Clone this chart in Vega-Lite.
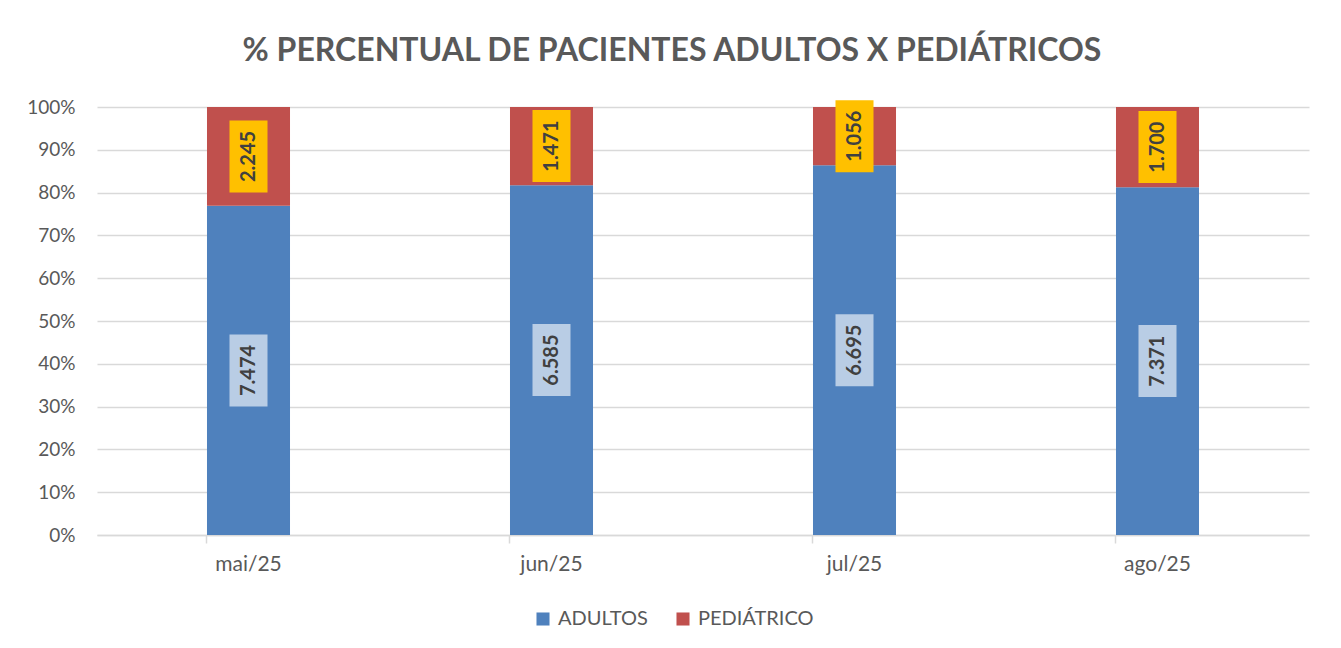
{
  "$schema": "https://vega.github.io/schema/vega-lite/v6.json",
  "width": 1212,
  "height": 428,
  "autosize": {"type": "none"},
  "padding": {"left": 97, "top": 107, "right": 32, "bottom": 113},
  "background": "white",
  "config": {
    "view": {"stroke": null},
    "font": "Lato",
    "locale": {"number": {"decimal": ",", "thousands": ".", "grouping": [3], "currency": ["R$", ""]}},
    "axisY": {
      "title": null,
      "format": ".0%",
      "labelFontSize": 19,
      "labelColor": "#595959",
      "labelPadding": 22,
      "domain": false,
      "ticks": false,
      "gridColor": "#d9d9d9",
      "gridWidth": 1.5,
      "labelOverlap": false
    }
  },
  "title": {
    "text": "% PERCENTUAL DE PACIENTES ADULTOS X PEDIÁTRICOS",
    "fontSize": 32,
    "fontWeight": "bold",
    "color": "#595959",
    "dx": -31,
    "offset": 30
  },
  "data": {
    "values": [
      {"mes": "mai/25", "grupo": "ADULTOS", "valor": 7474},
      {"mes": "mai/25", "grupo": "PEDIÁTRICO", "valor": 2245},
      {"mes": "jun/25", "grupo": "ADULTOS", "valor": 6585},
      {"mes": "jun/25", "grupo": "PEDIÁTRICO", "valor": 1471},
      {"mes": "jul/25", "grupo": "ADULTOS", "valor": 6695},
      {"mes": "jul/25", "grupo": "PEDIÁTRICO", "valor": 1056},
      {"mes": "ago/25", "grupo": "ADULTOS", "valor": 7371},
      {"mes": "ago/25", "grupo": "PEDIÁTRICO", "valor": 1700}
    ]
  },
  "transform": [
    {"stack": "valor", "groupby": ["mes"], "sort": [{"field": "grupo", "order": "ascending"}], "as": ["v0", "v1"], "offset": "normalize"},
    {"calculate": "(datum.v0 + datum.v1) / 2", "as": "meio"}
  ],
  "encoding": {
    "x": {
      "field": "mes",
      "type": "nominal",
      "sort": ["mai/25", "jun/25", "jul/25", "ago/25"],
      "scale": {"paddingInner": 0.726, "paddingOuter": 0.363},
      "axis": {
        "title": null,
        "labelAngle": 0,
        "labelFontSize": 21,
        "labelColor": "#595959",
        "labelPadding": 10,
        "domainColor": "#d9d9d9",
        "domainWidth": 1.5,
        "tickColor": "#d9d9d9",
        "tickSize": 8,
        "tickWidth": 1.5,
        "bandPosition": 0,
        "grid": false
      }
    }
  },
  "layer": [
    {
      "mark": {"type": "bar"},
      "encoding": {
        "y": {
          "field": "v0",
          "type": "quantitative",
          "scale": {"domain": [0, 1]},
          "axis": {"values": [0, 0.1, 0.2, 0.3, 0.4, 0.5, 0.6, 0.7, 0.8, 0.9, 1]}
        },
        "y2": {"field": "v1"},
        "color": {
          "field": "grupo",
          "type": "nominal",
          "scale": {"domain": ["ADULTOS", "PEDIÁTRICO"], "range": ["#4F81BD", "#C0504D"]},
          "legend": {
            "title": null,
            "orient": "none",
            "direction": "horizontal",
            "legendX": 436,
            "legendY": 502,
            "symbolType": "square",
            "symbolSize": 170,
            "symbolStrokeWidth": 0,
            "labelFontSize": 20,
            "labelColor": "#595959",
            "columnPadding": 25,
            "labelOffset": 5
          }
        }
      }
    },
    {
      "mark": {"type": "point", "filled": true, "opacity": 1, "shape": "M-0.528,-1H0.528V1H-0.528Z", "size": 5184},
      "encoding": {
        "y": {"field": "meio", "type": "quantitative", "axis": {"values": [0, 0.1, 0.2, 0.3, 0.4, 0.5, 0.6, 0.7, 0.8, 0.9, 1]}},
        "fill": {
          "condition": {"test": "datum.grupo === 'ADULTOS'", "value": "#B9CDE5"},
          "value": "#FFC000"
        }
      }
    },
    {
      "mark": {"type": "text", "angle": 270, "fontSize": 20, "fontWeight": "bold", "color": "#404040", "align": "center", "baseline": "middle"},
      "encoding": {
        "y": {"field": "meio", "type": "quantitative", "axis": {"values": [0, 0.1, 0.2, 0.3, 0.4, 0.5, 0.6, 0.7, 0.8, 0.9, 1]}},
        "text": {"field": "valor", "type": "quantitative", "format": ",d"}
      }
    }
  ]
}
